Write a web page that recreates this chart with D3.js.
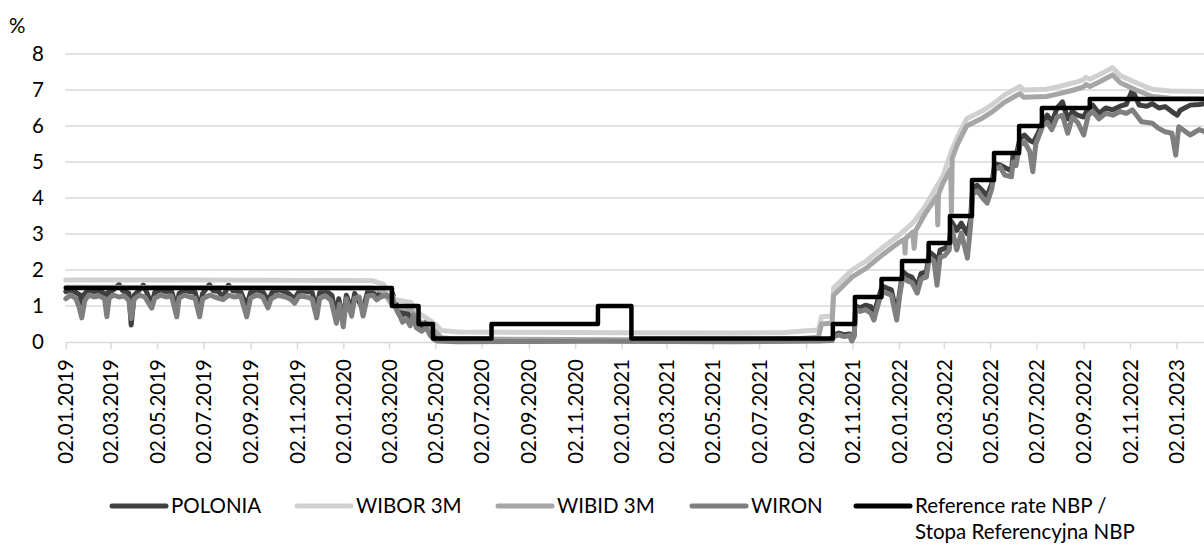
<!DOCTYPE html>
<html>
<head>
<meta charset="utf-8">
<script src="https://cdn.jsdelivr.net/npm/d3@7"></script>
<style>
  html, body { margin: 0; padding: 0; background: #fff; }
  svg { display: block; font-family: Lato, "Open Sans", sans-serif; }
  .tick text { fill: #000; }
</style>
</head>
<body>
<svg id="chart" width="1204" height="545"></svg>
<script>
// ---------- data ----------
const seriesNames = ["POLONIA", "WIBOR 3M", "WIBID 3M", "WIRON", "Reference rate NBP /\nStopa Referencyjna NBP"];
const yTicks = [0, 1, 2, 3, 4, 5, 6, 7, 8];
const xTickDates = [
  "2019-01-02", "2019-03-02", "2019-05-02", "2019-07-02", "2019-09-02", "2019-11-02",
  "2020-01-02", "2020-03-02", "2020-05-02", "2020-07-02", "2020-09-02", "2020-11-02",
  "2021-01-02", "2021-03-02", "2021-05-02", "2021-07-02", "2021-09-02", "2021-11-02",
  "2022-01-02", "2022-03-02", "2022-05-02", "2022-07-02", "2022-09-02", "2022-11-02",
  "2023-01-02"
];
const dateRange = ["2019-01-02", "2023-02-08"];

const referenceRate = [
  ["2019-01-02", 1.5], ["2020-03-06", 1.0], ["2020-04-10", 0.5], ["2020-04-29", 0.1],
  ["2020-07-15", 0.5], ["2020-12-02", 1.0], ["2021-01-15", 0.1], ["2021-10-07", 0.5],
  ["2021-11-05", 1.25], ["2021-12-10", 1.75], ["2022-01-06", 2.25], ["2022-02-10", 2.75],
  ["2022-03-10", 3.5], ["2022-04-08", 4.5], ["2022-05-07", 5.25], ["2022-06-09", 6.0],
  ["2022-07-09", 6.5], ["2022-09-10", 6.75], ["2023-02-08", 6.75]
];

const wibor3m = [
  ["2019-01-02", 1.72], ["2019-07-01", 1.72], ["2020-01-02", 1.71], ["2020-02-10", 1.70],
  ["2020-02-24", 1.60], ["2020-03-04", 1.30], ["2020-03-12", 1.17], ["2020-03-31", 1.10],
  ["2020-04-10", 0.80], ["2020-04-25", 0.60], ["2020-05-02", 0.50], ["2020-05-10", 0.32],
  ["2020-06-01", 0.28], ["2020-09-01", 0.27], ["2021-01-01", 0.26], ["2021-06-01", 0.25],
  ["2021-08-01", 0.26], ["2021-08-25", 0.30], ["2021-09-18", 0.33], ["2021-09-22", 0.70],
  ["2021-10-06", 0.72], ["2021-10-08", 1.50], ["2021-10-20", 1.75], ["2021-11-01", 2.00],
  ["2021-11-20", 2.25], ["2021-12-10", 2.60], ["2022-01-01", 2.95], ["2022-01-20", 3.30],
  ["2022-02-05", 3.75], ["2022-02-20", 4.30], ["2022-03-01", 4.62], ["2022-03-12", 5.30],
  ["2022-03-20", 5.70], ["2022-04-01", 6.20], ["2022-04-20", 6.40], ["2022-05-05", 6.60],
  ["2022-05-20", 6.85], ["2022-06-10", 7.10], ["2022-06-15", 7.00], ["2022-07-15", 7.02],
  ["2022-08-01", 7.10], ["2022-08-20", 7.20], ["2022-09-01", 7.28], ["2022-09-05", 7.35],
  ["2022-09-10", 7.30], ["2022-09-25", 7.45], ["2022-10-10", 7.62], ["2022-10-20", 7.40],
  ["2022-11-10", 7.20], ["2022-12-01", 7.02], ["2022-12-25", 6.97], ["2023-02-08", 6.96]
];

const wibid3m = [
  ["2019-01-02", 1.52], ["2020-02-10", 1.50], ["2020-02-24", 1.40], ["2020-03-04", 1.10],
  ["2020-03-12", 0.97], ["2020-03-31", 0.90], ["2020-04-10", 0.60], ["2020-04-25", 0.40],
  ["2020-05-02", 0.30], ["2020-05-10", 0.12], ["2020-06-01", 0.08], ["2021-06-01", 0.05],
  ["2021-08-25", 0.10], ["2021-09-18", 0.13], ["2021-09-22", 0.50], ["2021-10-06", 0.52],
  ["2021-10-08", 1.30], ["2021-10-20", 1.55], ["2021-11-01", 1.80], ["2021-11-20", 2.05],
  ["2021-12-10", 2.40], ["2022-01-01", 2.75], ["2022-01-09", 2.85], ["2022-01-10", 2.47],
  ["2022-01-11", 2.88], ["2022-01-20", 3.05], ["2022-01-22", 2.60], ["2022-01-24", 3.10],
  ["2022-02-05", 3.55], ["2022-02-21", 4.05], ["2022-02-22", 3.25], ["2022-02-23", 4.10],
  ["2022-03-01", 4.42], ["2022-03-11", 4.80], ["2022-03-12", 3.62], ["2022-03-13", 5.10],
  ["2022-03-20", 5.50], ["2022-04-01", 6.00], ["2022-04-20", 6.20], ["2022-05-05", 6.40],
  ["2022-05-20", 6.65], ["2022-06-10", 6.90], ["2022-06-15", 6.80], ["2022-07-15", 6.82],
  ["2022-08-01", 6.90], ["2022-08-20", 7.00], ["2022-09-01", 7.08], ["2022-09-05", 7.15],
  ["2022-09-10", 7.10], ["2022-09-25", 7.25], ["2022-10-10", 7.42], ["2022-10-20", 7.20],
  ["2022-11-10", 7.00], ["2022-12-01", 6.82], ["2022-12-25", 6.77], ["2023-02-08", 6.76]
];

const polonia = [
  ["2019-01-02", 1.40], ["2019-01-08", 1.45], ["2019-01-15", 1.38], ["2019-01-21", 1.30],
  ["2019-01-23", 0.95], ["2019-01-25", 1.30], ["2019-02-01", 1.45], ["2019-02-08", 1.40],
  ["2019-02-15", 1.42], ["2019-02-22", 1.35], ["2019-02-25", 1.05], ["2019-02-27", 1.38],
  ["2019-03-06", 1.45], ["2019-03-13", 1.60], ["2019-03-18", 1.42], ["2019-03-26", 1.35],
  ["2019-03-29", 0.47], ["2019-04-02", 1.30], ["2019-04-09", 1.45], ["2019-04-14", 1.58],
  ["2019-04-18", 1.40], ["2019-04-25", 1.05], ["2019-04-29", 1.38], ["2019-05-07", 1.45],
  ["2019-05-14", 1.40], ["2019-05-21", 1.42], ["2019-05-28", 0.95], ["2019-05-31", 1.35],
  ["2019-06-07", 1.44], ["2019-06-14", 1.40], ["2019-06-21", 1.38], ["2019-06-27", 0.95],
  ["2019-07-01", 1.35], ["2019-07-10", 1.60], ["2019-07-15", 1.42], ["2019-07-22", 1.40],
  ["2019-07-28", 1.25], ["2019-08-04", 1.58], ["2019-08-10", 1.42], ["2019-08-20", 1.40],
  ["2019-08-28", 1.00], ["2019-09-02", 1.38], ["2019-09-10", 1.45], ["2019-09-18", 1.40],
  ["2019-09-25", 1.15], ["2019-10-01", 1.40], ["2019-10-10", 1.45], ["2019-10-20", 1.38],
  ["2019-10-30", 1.20], ["2019-11-05", 1.42], ["2019-11-15", 1.40], ["2019-11-22", 1.38],
  ["2019-11-28", 0.90], ["2019-12-02", 1.38], ["2019-12-10", 1.42], ["2019-12-18", 1.30],
  ["2019-12-24", 0.70], ["2019-12-27", 1.20], ["2020-01-02", 0.60], ["2020-01-06", 1.30],
  ["2020-01-13", 0.90], ["2020-01-17", 1.35], ["2020-01-28", 0.90], ["2020-02-03", 1.40],
  ["2020-02-10", 1.38], ["2020-02-15", 1.25], ["2020-02-20", 1.40], ["2020-02-28", 1.35],
  ["2020-03-02", 1.35], ["2020-03-05", 1.45], ["2020-03-09", 1.20], ["2020-03-13", 1.00],
  ["2020-03-17", 0.95], ["2020-03-20", 0.75], ["2020-03-25", 0.85], ["2020-03-30", 0.60],
  ["2020-04-03", 0.95], ["2020-04-07", 0.55], ["2020-04-14", 0.45], ["2020-04-20", 0.55],
  ["2020-04-25", 0.35], ["2020-04-30", 0.20], ["2020-05-05", 0.10], ["2020-05-15", 0.05],
  ["2020-06-01", 0.04], ["2020-09-01", 0.03], ["2020-12-01", 0.05], ["2021-03-01", 0.04],
  ["2021-06-01", 0.03], ["2021-09-01", 0.04], ["2021-09-20", 0.05], ["2021-10-06", 0.06],
  ["2021-10-08", 0.20], ["2021-10-15", 0.25], ["2021-10-22", 0.20], ["2021-10-29", 0.22],
  ["2021-11-01", 0.05], ["2021-11-04", 0.20], ["2021-11-06", 1.00], ["2021-11-12", 0.95],
  ["2021-11-19", 1.02], ["2021-11-26", 0.98], ["2021-11-30", 0.70], ["2021-12-03", 1.00],
  ["2021-12-07", 1.30], ["2021-12-11", 1.55], ["2021-12-17", 1.50], ["2021-12-23", 1.45],
  ["2021-12-30", 0.75], ["2022-01-03", 1.40], ["2022-01-07", 1.95], ["2022-01-13", 1.85],
  ["2022-01-19", 1.80], ["2022-01-26", 1.55], ["2022-01-31", 1.90], ["2022-02-07", 1.95],
  ["2022-02-11", 2.50], ["2022-02-17", 2.40], ["2022-02-21", 2.10], ["2022-02-25", 2.55],
  ["2022-03-03", 2.60], ["2022-03-09", 2.70], ["2022-03-12", 3.35], ["2022-03-19", 3.10],
  ["2022-03-25", 3.30], ["2022-04-02", 3.00], ["2022-04-06", 3.40], ["2022-04-09", 4.30],
  ["2022-04-15", 4.35], ["2022-04-22", 4.20], ["2022-04-28", 4.05], ["2022-05-04", 4.40],
  ["2022-05-08", 4.95], ["2022-05-15", 4.92], ["2022-05-21", 4.85], ["2022-05-30", 4.75],
  ["2022-06-01", 5.19], ["2022-06-05", 5.15], ["2022-06-10", 5.65], ["2022-06-16", 5.75],
  ["2022-06-23", 5.60], ["2022-06-28", 5.55], ["2022-07-04", 5.80], ["2022-07-10", 6.12],
  ["2022-07-16", 6.30], ["2022-07-22", 6.10], ["2022-07-29", 6.50], ["2022-08-05", 6.67],
  ["2022-08-12", 6.20], ["2022-08-18", 6.40], ["2022-08-25", 6.30], ["2022-09-02", 6.25],
  ["2022-09-08", 6.50], ["2022-09-14", 6.58], ["2022-09-22", 6.35], ["2022-10-01", 6.50],
  ["2022-10-10", 6.45], ["2022-10-20", 6.55], ["2022-10-28", 6.60], ["2022-11-05", 7.00],
  ["2022-11-14", 6.58], ["2022-11-24", 6.55], ["2022-12-01", 6.62], ["2022-12-10", 6.50],
  ["2022-12-18", 6.54], ["2022-12-27", 6.40], ["2023-01-03", 6.30], ["2023-01-07", 6.44],
  ["2023-01-20", 6.58], ["2023-02-01", 6.60], ["2023-02-08", 6.62]
];

const wiron = [
  ["2019-01-02", 1.20], ["2019-01-08", 1.30], ["2019-01-15", 1.22], ["2019-01-19", 1.00],
  ["2019-01-23", 0.67], ["2019-01-27", 1.15], ["2019-02-01", 1.30], ["2019-02-08", 1.25],
  ["2019-02-15", 1.28], ["2019-02-22", 1.20], ["2019-02-25", 0.70], ["2019-02-28", 1.22],
  ["2019-03-06", 1.30], ["2019-03-13", 1.25], ["2019-03-20", 1.28], ["2019-03-26", 1.15],
  ["2019-03-29", 0.65], ["2019-04-02", 1.20], ["2019-04-09", 1.30], ["2019-04-16", 1.25],
  ["2019-04-25", 0.94], ["2019-04-29", 1.22], ["2019-05-07", 1.30], ["2019-05-14", 1.25],
  ["2019-05-21", 1.28], ["2019-05-28", 0.70], ["2019-05-31", 1.22], ["2019-06-07", 1.30],
  ["2019-06-14", 1.25], ["2019-06-21", 1.22], ["2019-06-27", 0.70], ["2019-07-01", 1.20],
  ["2019-07-10", 1.30], ["2019-07-17", 1.25], ["2019-07-28", 1.18], ["2019-08-04", 1.30],
  ["2019-08-12", 1.25], ["2019-08-20", 1.28], ["2019-08-28", 0.70], ["2019-09-02", 1.22],
  ["2019-09-10", 1.30], ["2019-09-18", 1.25], ["2019-09-25", 0.95], ["2019-09-29", 1.20],
  ["2019-10-08", 1.30], ["2019-10-18", 1.25], ["2019-10-24", 1.20], ["2019-10-30", 1.08],
  ["2019-11-05", 1.28], ["2019-11-15", 1.25], ["2019-11-22", 1.20], ["2019-11-28", 0.67],
  ["2019-12-02", 1.22], ["2019-12-10", 1.28], ["2019-12-17", 1.15], ["2019-12-24", 0.52],
  ["2019-12-28", 1.05], ["2020-01-02", 0.42], ["2020-01-06", 1.20], ["2020-01-13", 0.72],
  ["2020-01-17", 1.22], ["2020-01-23", 1.25], ["2020-01-28", 0.72], ["2020-02-03", 1.28],
  ["2020-02-10", 1.30], ["2020-02-15", 1.17], ["2020-02-20", 1.25], ["2020-02-28", 1.30],
  ["2020-03-02", 1.25], ["2020-03-06", 1.30], ["2020-03-09", 1.05], ["2020-03-13", 0.85],
  ["2020-03-17", 0.70], ["2020-03-20", 0.55], ["2020-03-25", 0.65], ["2020-03-30", 0.45],
  ["2020-04-03", 0.75], ["2020-04-07", 0.40], ["2020-04-14", 0.30], ["2020-04-20", 0.40],
  ["2020-04-25", 0.20], ["2020-04-30", 0.08], ["2020-05-05", 0.03], ["2020-06-01", 0.01],
  ["2020-12-01", 0.02], ["2021-06-01", 0.01], ["2021-09-20", 0.03], ["2021-10-06", 0.04],
  ["2021-10-08", 0.15], ["2021-10-15", 0.20], ["2021-10-22", 0.15], ["2021-10-29", 0.18],
  ["2021-11-01", 0.03], ["2021-11-04", 0.15], ["2021-11-06", 0.90], ["2021-11-12", 0.85],
  ["2021-11-19", 0.90], ["2021-11-26", 0.80], ["2021-11-30", 0.61], ["2021-12-03", 0.85],
  ["2021-12-07", 1.15], ["2021-12-11", 1.40], ["2021-12-17", 1.35], ["2021-12-23", 1.30],
  ["2021-12-30", 0.61], ["2022-01-03", 1.30], ["2022-01-07", 1.80], ["2022-01-13", 1.70],
  ["2022-01-19", 1.65], ["2022-01-26", 1.36], ["2022-01-31", 1.75], ["2022-02-07", 1.80],
  ["2022-02-11", 2.35], ["2022-02-17", 2.25], ["2022-02-21", 1.58], ["2022-02-25", 2.35],
  ["2022-03-03", 2.40], ["2022-03-09", 2.55], ["2022-03-12", 3.20], ["2022-03-19", 2.56],
  ["2022-03-25", 3.03], ["2022-04-02", 2.33], ["2022-04-06", 3.20], ["2022-04-09", 4.10],
  ["2022-04-15", 4.20], ["2022-04-22", 4.00], ["2022-04-28", 3.86], ["2022-05-04", 4.25],
  ["2022-05-08", 4.78], ["2022-05-15", 4.87], ["2022-05-21", 4.64], ["2022-05-30", 4.59],
  ["2022-06-01", 5.00], ["2022-06-05", 4.90], ["2022-06-10", 5.50], ["2022-06-16", 5.56],
  ["2022-06-23", 5.29], ["2022-06-27", 4.73], ["2022-07-01", 5.50], ["2022-07-10", 6.00],
  ["2022-07-16", 6.10], ["2022-07-22", 5.90], ["2022-07-29", 6.25], ["2022-08-05", 6.30],
  ["2022-08-12", 5.80], ["2022-08-18", 6.25], ["2022-08-25", 6.10], ["2022-09-02", 5.75],
  ["2022-09-08", 6.30], ["2022-09-14", 6.40], ["2022-09-22", 6.20], ["2022-10-01", 6.35],
  ["2022-10-10", 6.30], ["2022-10-20", 6.40], ["2022-10-28", 6.35], ["2022-11-05", 6.45],
  ["2022-11-17", 6.12], ["2022-12-01", 6.08], ["2022-12-09", 5.94], ["2022-12-18", 5.84],
  ["2022-12-27", 5.80], ["2023-01-01", 5.19], ["2023-01-05", 5.98], ["2023-01-20", 5.75],
  ["2023-02-01", 5.90], ["2023-02-08", 5.84]
];

// ---------- chart ----------
const parse = d3.utcParse("%Y-%m-%d");
const fmt = d3.utcFormat("%d.%m.%Y");
const FONT = 20.5;

const svg = d3.select("#chart");

const x = d3.scaleUtc().domain(dateRange.map(parse)).range([65.8, 1204.6]);
const y = d3.scaleLinear().domain([0, 8]).range([342, 54]);

svg.append("defs").append("clipPath").attr("id", "plot")
  .append("rect").attr("x", 60).attr("y", 30).attr("width", 1150).attr("height", 320);

// gridlines
svg.append("g")
  .selectAll("line")
  .data(yTicks.filter(d => d > 0))
  .join("line")
  .attr("x1", 65).attr("x2", 1204)
  .attr("y1", d => y(d)).attr("y2", d => y(d))
  .attr("stroke", "#d9d9d9").attr("stroke-width", 1.4);

// x axis
const xAxis = svg.append("g")
  .attr("transform", `translate(0,${y(0)})`)
  .call(d3.axisBottom(x).tickValues(xTickDates.map(parse)).tickFormat(fmt).tickSize(7).tickSizeOuter(0));
xAxis.select(".domain").attr("stroke", "#d9d9d9").attr("stroke-width", 1.4);
xAxis.selectAll(".tick line").attr("stroke", "#d9d9d9").attr("stroke-width", 1.4);
xAxis.selectAll(".tick text")
  .attr("font-size", FONT)
  .attr("font-family", "Lato, sans-serif")
  .attr("text-anchor", "end")
  .attr("transform", "translate(0,17) rotate(-90)")
  .attr("x", 0).attr("y", 0).attr("dy", "0.35em");

// y axis labels
const yAxis = svg.append("g")
  .attr("transform", "translate(44,0)")
  .call(d3.axisLeft(y).tickValues(yTicks).tickSize(0).tickPadding(0));
yAxis.select(".domain").remove();
yAxis.selectAll(".tick text").attr("font-size", FONT).attr("font-family", "Lato, sans-serif");

svg.append("text").attr("x", 9).attr("y", 33).attr("font-size", FONT).text("%");

// lines
const line = d3.line().x(d => x(parse(d[0]))).y(d => y(d[1]));
const stepLine = d3.line().curve(d3.curveStepAfter).x(d => x(parse(d[0]))).y(d => y(d[1]));

const series = [
  { name: seriesNames[0], data: polonia, color: "#404040", width: 5, gen: line },
  { name: seriesNames[1], data: wibor3m, color: "#d0d0d0", width: 5, gen: line },
  { name: seriesNames[2], data: wibid3m, color: "#a6a6a6", width: 5, gen: line },
  { name: seriesNames[3], data: wiron, color: "#7f7f7f", width: 5, gen: line },
  { name: seriesNames[4], data: referenceRate, color: "#000000", width: 4.5, gen: stepLine }
];

const plot = svg.append("g").attr("clip-path", "url(#plot)");
plot.selectAll("path")
  .data(series)
  .join("path")
  .attr("d", d => d.gen(d.data))
  .attr("fill", "none")
  .attr("stroke", d => d.color)
  .attr("stroke-width", d => d.width)
  .attr("stroke-linejoin", "round")
  .attr("stroke-linecap", "round");

// legend
const legendX = [112, 297, 498, 692, 856];
const legend = svg.append("g")
  .selectAll("g")
  .data(series)
  .join("g")
  .attr("transform", (d, i) => `translate(${legendX[i]},506)`);

legend.append("line")
  .attr("x1", 0).attr("x2", 54)
  .attr("stroke", d => d.color)
  .attr("stroke-width", 5)
  .attr("stroke-linecap", "round");

legend.append("text")
  .attr("x", 59)
  .attr("font-size", FONT)
  .selectAll("tspan")
  .data(d => d.name.split("\n"))
  .join("tspan")
  .attr("x", 59)
  .attr("dy", (d, i) => i === 0 ? "0.35em" : "1.28em")
  .text(d => d);
</script>
</body>
</html>
